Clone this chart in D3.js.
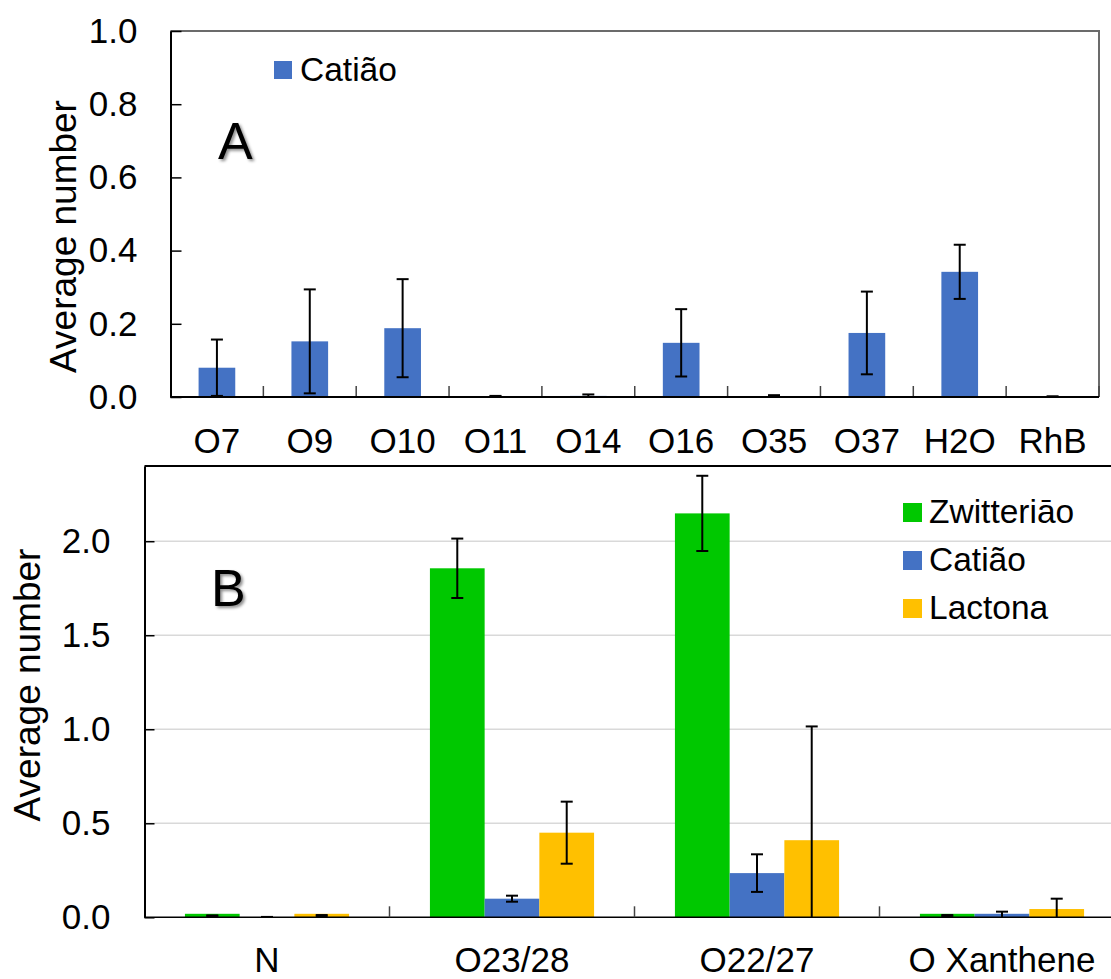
<!DOCTYPE html>
<html>
<head>
<meta charset="utf-8">
<script src="https://d3js.org/d3.v7.min.js"></script>
<style>
  body { margin: 0; background: #fff; }
  svg { display: block; }
  text { font-family: "Liberation Sans", Arial, sans-serif; fill: #000; }
</style>
</head>
<body>
<svg id="chart" width="1111" height="979"></svg>
<script>
// ---- data, panel A ----
const catsA = ["O7", "O9", "O10", "O11", "O14", "O16", "O35", "O37", "H2O", "RhB"]
const cationA = [0.080, 0.152, 0.188, 0.002, 0.003, 0.148, 0.002, 0.175, 0.342, 0.001]
const cationAErr = [0.077, 0.142, 0.134, 0.001, 0.004, 0.092, 0.003, 0.113, 0.074, 0.001]
const ticksA = [0, 0.2, 0.4, 0.6, 0.8, 1.0]

// ---- data, panel B ----
const catsB = ["N", "O23/28", "O22/27", "O Xanthene"]
const seriesB = ["Zwitteriāo", "Catião", "Lactona"]
const zwitB = [0.008, 1.856, 2.148, 0.008]
const zwitBErr = [0.002, 0.158, 0.200, 0.004]
const catB = [0.001, 0.099, 0.235, 0.008]
const catBErr = [0.001, 0.016, 0.100, 0.022]
const lactB = [0.008, 0.450, 0.410, 0.044]
const lactBErr = [0.004, 0.165, 0.605, 0.055]
const ticksB = [0, 0.5, 1.0, 1.5, 2.0]

const colors = {"Zwitteriāo": "#00C800", "Catião": "#4472C4", "Lactona": "#FFC000"}

const svg = d3.select("#chart")

// drop shadow for panel letters
svg.append("defs").append("filter").attr("id", "shadow")
	.attr("x", "-20%").attr("y", "-20%").attr("width", "150%").attr("height", "150%")
	.append("feDropShadow")
	.attr("dx", 2).attr("dy", 2).attr("stdDeviation", 1.5)
	.attr("flood-color", "#000").attr("flood-opacity", 0.45)

function errorBars(g, rows, x, y, capW) {
	rows.forEach(r => {
		let hi = y(r.v + r.e), lo = y(Math.max(0, r.v - r.e))
		g.append("line").attr("x1", x(r)).attr("x2", x(r)).attr("y1", hi).attr("y2", lo)
		g.append("line").attr("x1", x(r) - capW / 2).attr("x2", x(r) + capW / 2).attr("y1", hi).attr("y2", hi)
		if (r.v - r.e > 0)
			g.append("line").attr("x1", x(r) - capW / 2).attr("x2", x(r) + capW / 2).attr("y1", lo).attr("y2", lo)
	})
	g.attr("stroke", "#000").attr("stroke-width", 2)
}

// ================= Panel A =================
{
	const left = 170.5, right = 1099, top = 31, bottom = 397
	const x = d3.scaleBand().domain(catsA).range([left, right])
	const y = d3.scaleLinear().domain([0, 1]).range([bottom, top])
	const bw = x.bandwidth(), barW = bw * 0.395

	const g = svg.append("g")

	// frame top/right (gray)
	g.append("path")
		.attr("d", `M${left},${top}H${right}V${bottom}`)
		.attr("fill", "none").attr("stroke", "#6b6b6b").attr("stroke-width", 2)

	const rows = catsA.map((c, i) => ({c: c, v: cationA[i], e: cationAErr[i]}))
	g.selectAll("rect.bar").data(rows).enter().append("rect")
		.attr("class", "bar")
		.attr("x", d => x(d.c) + (bw - barW) / 2)
		.attr("width", barW)
		.attr("y", d => y(d.v))
		.attr("height", d => y(0) - y(d.v))
		.attr("fill", colors["Catião"])

	errorBars(g.append("g"), rows, d => x(d.c) + bw / 2, y, 12)

	// category separators
	g.selectAll("line.sep").data(d3.range(1, catsA.length + 1)).enter().append("line")
		.attr("x1", i => left + i * bw).attr("x2", i => left + i * bw)
		.attr("y1", bottom).attr("y2", bottom - 11)
		.attr("stroke", "#444").attr("stroke-width", 1.5)

	// y axis
	const ya = g.append("g").attr("transform", `translate(${left},0)`)
		.call(d3.axisLeft(y).tickValues(ticksA).tickFormat(d3.format(".1f"))
			.tickSizeInner(-11).tickSizeOuter(0).tickPadding(33))
	ya.selectAll("text").attr("font-size", 35).attr("font-family", "Liberation Sans, Arial, sans-serif").attr("fill", "#000")
	ya.selectAll("line").attr("stroke", "#000").attr("stroke-width", 1.5)
	ya.select(".domain").attr("stroke", "#000").attr("stroke-width", 2)

	// bottom axis line
	g.append("line").attr("x1", left).attr("x2", right).attr("y1", bottom).attr("y2", bottom)
		.attr("stroke", "#000").attr("stroke-width", 2)

	// x labels
	g.selectAll("text.cat").data(catsA).enter().append("text")
		.attr("class", "cat")
		.attr("x", d => x(d) + bw / 2).attr("y", 453)
		.attr("text-anchor", "middle").attr("font-size", 35)
		.text(d => d)

	// y title
	g.append("text")
		.attr("transform", `translate(76,236.5) rotate(-90)`)
		.attr("text-anchor", "middle").attr("font-size", 37)
		.text("Average number")

	// legend
	g.append("rect").attr("x", 274).attr("y", 61).attr("width", 18).attr("height", 18)
		.attr("fill", colors["Catião"])
	g.append("text").attr("x", 300).attr("y", 81).attr("font-size", 33.5).text("Catião")

	// panel letter
	g.append("text").attr("x", 218).attr("y", 159).attr("font-size", 52)
		.attr("filter", "url(#shadow)").text("A")
}

// ================= Panel B =================
{
	const left = 144.5, top = 466, bottom = 917.3
	const bw0 = 245
	const right = left + bw0 * catsB.length
	const x = d3.scaleBand().domain(catsB).range([left, right])
	const bw = x.bandwidth()
	const xs = d3.scaleBand().domain(seriesB).range([bw * 0.165, bw * 0.835])
	const y = d3.scaleLinear().domain([0, 2.4]).range([bottom, top])

	const g = svg.append("g")

	// gridlines
	g.selectAll("line.grid").data(ticksB.slice(1)).enter().append("line")
		.attr("x1", left).attr("x2", 1111)
		.attr("y1", d => y(d)).attr("y2", d => y(d))
		.attr("stroke", "#d9d9d9").attr("stroke-width", 1.5)

	// top frame
	g.append("line").attr("x1", left).attr("x2", 1111).attr("y1", top).attr("y2", top)
		.attr("stroke", "#000").attr("stroke-width", 2)

	const vals = {"Zwitteriāo": [zwitB, zwitBErr], "Catião": [catB, catBErr], "Lactona": [lactB, lactBErr]}
	const rows = []
	catsB.forEach((c, i) => seriesB.forEach(s => rows.push({c: c, s: s, v: vals[s][0][i], e: vals[s][1][i]})))

	// near-zero bars still show as a thin strip sitting on the axis
	const barH = d => d.v > 0.004 ? Math.max(3.5, y(0) - y(d.v)) : y(0) - y(d.v)
	g.selectAll("rect.bar").data(rows).enter().append("rect")
		.attr("class", "bar")
		.attr("x", d => x(d.c) + xs(d.s))
		.attr("width", xs.bandwidth())
		.attr("y", d => y(0) - barH(d))
		.attr("height", barH)
		.attr("fill", d => colors[d.s])

	// bottom axis line
	g.append("line").attr("x1", left).attr("x2", 1111).attr("y1", bottom).attr("y2", bottom)
		.attr("stroke", "#000").attr("stroke-width", 1.5)

	errorBars(g.append("g"), rows, d => x(d.c) + xs(d.s) + xs.bandwidth() / 2, y, 12)

	// category separators
	g.selectAll("line.sep").data(d3.range(1, catsB.length)).enter().append("line")
		.attr("x1", i => left + i * bw).attr("x2", i => left + i * bw)
		.attr("y1", bottom).attr("y2", bottom - 11)
		.attr("stroke", "#444").attr("stroke-width", 1.5)

	// y axis
	const ya = g.append("g").attr("transform", `translate(${left},0)`)
		.call(d3.axisLeft(y).tickValues(ticksB).tickFormat(d3.format(".1f"))
			.tickSizeInner(-10).tickSizeOuter(0).tickPadding(34))
	ya.selectAll("text").attr("font-size", 35).attr("font-family", "Liberation Sans, Arial, sans-serif").attr("fill", "#000")
	ya.selectAll("line").attr("stroke", "#000").attr("stroke-width", 1.5)
	ya.select(".domain").attr("stroke", "#000").attr("stroke-width", 2)

	// x labels
	g.selectAll("text.cat").data(catsB).enter().append("text")
		.attr("class", "cat")
		.attr("x", d => x(d) + bw / 2).attr("y", 972)
		.attr("text-anchor", "middle").attr("font-size", 35)
		.text(d => d)

	// y title
	g.append("text")
		.attr("transform", `translate(39.5,685) rotate(-90)`)
		.attr("text-anchor", "middle").attr("font-size", 37)
		.text("Average number")

	// legend
	const leg = g.selectAll("g.leg").data(seriesB).enter().append("g")
		.attr("class", "leg")
		.attr("transform", (d, i) => `translate(903,${503 + i * 48})`)
	leg.append("rect").attr("width", 19).attr("height", 19).attr("fill", d => colors[d])
	leg.append("text").attr("x", 26).attr("y", 20).attr("font-size", 33.5).text(d => d)

	// panel letter
	g.append("text").attr("x", 211).attr("y", 606).attr("font-size", 52)
		.attr("filter", "url(#shadow)").text("B")
}
</script>
</body>
</html>
